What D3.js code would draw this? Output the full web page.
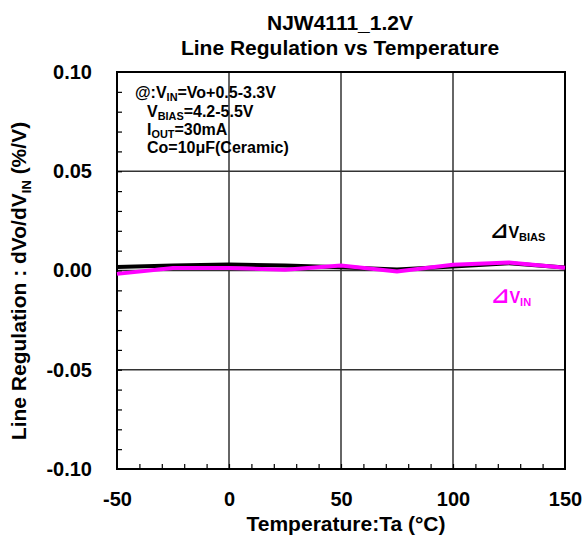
<!DOCTYPE html>
<html>
<head>
<meta charset="utf-8">
<script src="https://cdn.jsdelivr.net/npm/d3@7"></script>
<style>
  body { margin: 0; background: #fff; }
  text { font-family: "Liberation Sans", Arial, sans-serif; font-weight: bold; }
</style>
</head>
<body>
<svg id="chart" width="582" height="538"></svg>
<script>
// data
const temps = [-50, -25, 0, 25, 50, 75, 100, 125, 150];
const vbias = [0.0018, 0.0025, 0.003, 0.0025, 0.0017, 0.0005, 0.002, 0.0037, 0.0015];
const vin = [-0.0017, 0.0012, 0.0013, 0.0004, 0.0025, -0.0005, 0.0029, 0.004, 0.0014];
const xTicks = [-50, 0, 50, 100, 150];
const yTicks = [0.10, 0.05, 0.00, -0.05, -0.10];

const margin = { top: 72, right: 17, bottom: 69, left: 117 };
const width = 582 - margin.left - margin.right;
const height = 538 - margin.top - margin.bottom;

const svg = d3.select('#chart');
const g = svg.append('g').attr('transform', 'translate(' + margin.left + ',' + margin.top + ')');

const x = d3.scaleLinear().domain([-50, 150]).range([0, width]);
const y = d3.scaleLinear().domain([-0.1, 0.1]).range([height, 0]);

// grid
g.append('g').selectAll('line').data([0, 50, 100]).join('line')
  .attr('x1', d => x(d)).attr('x2', d => x(d)).attr('y1', 0).attr('y2', height)
  .attr('stroke', '#333').attr('stroke-width', 1.5);
g.append('g').selectAll('line').data([0.05, 0, -0.05]).join('line')
  .attr('y1', d => y(d)).attr('y2', d => y(d)).attr('x1', 0).attr('x2', width)
  .attr('stroke', '#333').attr('stroke-width', 1.5);

// minor ticks inside
g.append('g').call(d3.axisLeft(y).tickValues(d3.range(-9, 10).map(v => v / 100)).tickSize(-5).tickFormat(''))
  .call(a => a.select('.domain').remove())
  .selectAll('line').attr('stroke', '#000').attr('stroke-width', 1.2);
g.append('g').attr('transform', 'translate(0,' + height + ')')
  .call(d3.axisBottom(x).tickValues(d3.range(-40, 150, 10)).tickSize(-5).tickFormat(''))
  .call(a => a.select('.domain').remove())
  .selectAll('line').attr('stroke', '#000').attr('stroke-width', 1.2);

// tick labels
g.append('g').attr('transform', 'translate(0,' + height + ')')
  .call(d3.axisBottom(x).tickValues(xTicks).tickSize(0).tickPadding(23).tickFormat(d => String(d)))
  .call(a => a.select('.domain').remove())
  .selectAll('text').attr('font-size', 20).attr('fill', '#000')
  .style('font-family', '"Liberation Sans", Arial, sans-serif').style('font-weight', 'bold');
g.append('g')
  .call(d3.axisLeft(y).tickValues(yTicks).tickSize(0).tickPadding(25).tickFormat(d => d.toFixed(2)))
  .call(a => a.select('.domain').remove())
  .selectAll('text').attr('font-size', 20).attr('fill', '#000')
  .style('font-family', '"Liberation Sans", Arial, sans-serif').style('font-weight', 'bold');

// frame
g.append('rect').attr('width', width).attr('height', height)
  .attr('fill', 'none').attr('stroke', '#000').attr('stroke-width', 2);

// lines
const line = d3.line().x((d, i) => x(temps[i])).y(d => y(d));
g.append('path').datum(vbias).attr('d', line)
  .attr('fill', 'none').attr('stroke', '#000').attr('stroke-width', 4);
g.append('path').datum(vin).attr('d', line)
  .attr('fill', 'none').attr('stroke', '#ff00ff').attr('stroke-width', 4);

// titles
svg.append('text').attr('x', 340).attr('y', 30).attr('text-anchor', 'middle')
  .attr('font-size', 21).text('NJW4111_1.2V');
svg.append('text').attr('x', 340).attr('y', 55).attr('text-anchor', 'middle')
  .attr('font-size', 21).text('Line Regulation vs Temperature');
svg.append('text').attr('x', 346).attr('y', 531).attr('text-anchor', 'middle')
  .attr('font-size', 21).text('Temperature:Ta (°C)');

const yt = svg.append('text').attr('transform', 'translate(26,281) rotate(-90)')
  .attr('text-anchor', 'middle').attr('font-size', 21);
yt.append('tspan').text('Line Regulation : dVo/dV');
yt.append('tspan').attr('font-size', 13).attr('dy', 5).text('IN');
yt.append('tspan').attr('dy', -5).text(' (%/V)');

// conditions note
function subText(xp, yp, parts, size) {
  const t = svg.append('text').attr('x', xp).attr('y', yp).attr('font-size', size);
  parts.forEach(p => {
    if (p[1]) t.append('tspan').attr('font-size', size * 0.68).attr('dy', 3).text(p[0]);
    else t.append('tspan').attr('dy', p[2] ? -3 : 0).text(p[0]);
  });
  return t;
}
subText(135, 98, [['@:V'], ['IN', true], ['=Vo+0.5-3.3V', false, true]], 16);
subText(147, 117, [['V'], ['BIAS', true], ['=4.2-5.5V', false, true]], 16);
subText(147, 135, [['I'], ['OUT', true], ['=30mA', false, true]], 16);
subText(147, 153, [['Co=10μF(Ceramic)']], 16);

// series labels
function seriesLabel(xp, yp, sub, color) {
  const t = svg.append('text').attr('x', xp).attr('y', yp).attr('font-size', 16).attr('fill', color);
  t.append('tspan').attr('font-size', 22).attr('font-family', '"DejaVu Sans", sans-serif').text('⊿');
  t.append('tspan').text('V');
  t.append('tspan').attr('font-size', 11).attr('dy', 3).text(sub);
}
seriesLabel(490, 238, 'BIAS', '#000');
seriesLabel(491, 303, 'IN', '#ff00ff');
</script>
</body>
</html>
